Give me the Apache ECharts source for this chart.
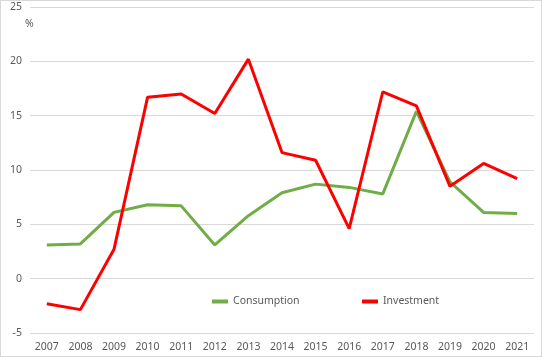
<!DOCTYPE html>
<html><head><meta charset="utf-8">
<script src="https://cdn.jsdelivr.net/npm/echarts@6/dist/echarts.min.js"></script>
<style>html,body{margin:0;padding:0;background:#fff}#c{width:542px;height:357px;position:absolute;left:0;top:0}#b{position:absolute;left:0;top:0;width:542px;height:357px;box-sizing:border-box;border:1px solid #d9d9d9;pointer-events:none}</style>
</head><body><div id="c"></div><div id="b"></div>
<script>
var years = ['2007','2008','2009','2010','2011','2012','2013','2014','2015','2016','2017','2018','2019','2020','2021'];
var consumption = [3.1,3.2,6.1,6.8,6.7,3.1,5.8,7.9,8.7,8.4,7.8,15.4,8.9,6.1,6.0];
var investment = [-2.3,-2.85,2.7,16.7,17.0,15.2,20.2,11.6,10.9,4.6,17.2,15.9,8.5,10.6,9.2];
var chart = echarts.init(document.getElementById('c'));
var txt = {color:'#595959', fontFamily:'Noto Sans', fontSize:10.5};
chart.setOption({
  animation:false,
  grid:{left:30,right:8,top:7,bottom:24},
  graphic:[{type:'text',left:25,top:19,style:{text:'%',fill:'#595959',font:'10.5px Noto Sans'}}],
  legend:[
    {data:['Consumption'],left:212,top:296,padding:0,itemWidth:16,itemHeight:4,icon:'rect',textStyle:txt,itemGap:4},
    {data:['Investment'],left:362,top:296,padding:0,itemWidth:16,itemHeight:4,icon:'rect',textStyle:txt,itemGap:4}
  ],
  xAxis:{type:'category',data:years,boundaryGap:true,axisLine:{show:false},axisTick:{show:false},
    axisLabel:Object.assign({margin:9,interval:0},txt)},
  yAxis:{type:'value',min:-5,max:25,interval:5,axisLine:{show:false},axisTick:{show:false},
    splitLine:{lineStyle:{color:'#d9d9d9',width:1}},axisLabel:Object.assign({margin:8},txt)},
  series:[
    {name:'Consumption',type:'line',data:consumption,symbol:'none',itemStyle:{color:'#70AD47'},lineStyle:{color:'#70AD47',width:3}},
    {name:'Investment',type:'line',data:investment,symbol:'none',itemStyle:{color:'#FF0000'},lineStyle:{color:'#FF0000',width:3}}
  ]
});
</script></body></html>
